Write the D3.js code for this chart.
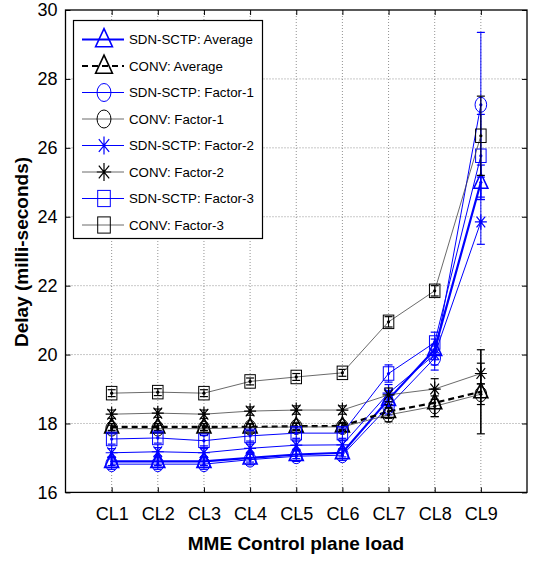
<!DOCTYPE html>
<html>
<head>
<meta charset="utf-8">
<script src="https://cdn.jsdelivr.net/npm/d3@7"></script>
<style>
  html, body { margin: 0; padding: 0; background: #fff; }
  svg { display: block; font-family: "Liberation Sans", Arial, sans-serif; }
</style>
</head>
<body>
<svg id="chart" width="533" height="561"></svg>
<script>
// Control-plane load levels
const categories = ["CL1", "CL2", "CL3", "CL4", "CL5", "CL6", "CL7", "CL8", "CL9"];
const yTicks = [16, 18, 20, 22, 24, 26, 28, 30];

// Mean delay (ms) per series
const sdnAvg  = [16.90, 16.90, 16.90, 17.00, 17.10, 17.15, 18.70, 20.15, 25.00];
const convAvg = [17.90, 17.90, 17.90, 17.90, 17.92, 17.93, 18.35, 18.60, 18.92];
const sdnF1   = [16.82, 16.82, 16.82, 16.95, 17.05, 17.08, 18.50, 19.90, 27.25];
const convF1  = [17.85, 17.85, 17.85, 17.88, 17.90, 17.90, 18.25, 18.50, 18.85];
const sdnF2   = [17.15, 17.18, 17.15, 17.28, 17.37, 17.38, 18.88, 20.00, 23.85];
const convF2  = [18.27, 18.30, 18.27, 18.36, 18.39, 18.39, 18.83, 19.00, 19.45];
const sdnF3   = [17.55, 17.58, 17.50, 17.64, 17.72, 17.72, 19.45, 20.35, 25.77];
const convF3  = [18.88, 18.91, 18.88, 19.22, 19.35, 19.47, 20.95, 21.85, 26.35];

// Error-bar half widths (ms)
const sdnAvgErr  = [0.12, 0.12, 0.12, 0.12, 0.12, 0.12, 0.25, 0.30, 0.50];
const convAvgErr = [0.10, 0.10, 0.10, 0.10, 0.10, 0.10, 0.20, 0.40, 1.22];
const sdnF1Err   = [0.15, 0.15, 0.15, 0.15, 0.15, 0.15, 0.25, 0.35, 2.10];
const convF1Err  = [0.10, 0.10, 0.10, 0.10, 0.10, 0.10, 0.20, 0.30, 0.30];
const sdnF2Err   = [0.12, 0.12, 0.12, 0.12, 0.12, 0.12, 0.25, 0.30, 0.65];
const convF2Err  = [0.12, 0.12, 0.12, 0.12, 0.12, 0.12, 0.20, 0.30, 0.30];
const sdnF3Err   = [0.15, 0.15, 0.15, 0.15, 0.15, 0.15, 0.25, 0.30, 1.20];
const convF3Err  = [0.10, 0.10, 0.10, 0.10, 0.10, 0.10, 0.15, 0.15, 1.15];

const BLUE = "#0000ff", BLACK = "#000000", GREY = "#444444";

const series = [
  { name: "SDN-SCTP: Average", values: sdnAvg,  err: sdnAvgErr,  color: BLUE,  marker: "triangle", width: 2.2, dash: null },
  { name: "CONV: Average",     values: convAvg, err: convAvgErr, color: BLACK, marker: "triangle", width: 2.2, dash: "6,4" },
  { name: "SDN-SCTP: Factor-1", values: sdnF1,  err: sdnF1Err,   color: BLUE,  marker: "circle",   width: 1,   dash: null },
  { name: "CONV: Factor-1",     values: convF1, err: convF1Err,  color: GREY,  marker: "circle",   width: 0.8, dash: null },
  { name: "SDN-SCTP: Factor-2", values: sdnF2,  err: sdnF2Err,   color: BLUE,  marker: "star",     width: 1,   dash: null },
  { name: "CONV: Factor-2",     values: convF2, err: convF2Err,  color: GREY,  marker: "star",     width: 0.8, dash: null },
  { name: "SDN-SCTP: Factor-3", values: sdnF3,  err: sdnF3Err,   color: BLUE,  marker: "square",   width: 1,   dash: null },
  { name: "CONV: Factor-3",     values: convF3, err: convF3Err,  color: GREY,  marker: "square",   width: 0.8, dash: null }
];

const svg = d3.select("#chart");
const plotL = 65.5, plotR = 527, plotT = 10, plotB = 492.4;

const x = d3.scaleLinear().domain([0, categories.length + 1]).range([plotL, plotR]);
const y = d3.scaleLinear().domain([16, 30]).range([plotB, plotT]);
const xIdx = d3.range(1, categories.length + 1);

// dotted grid
const grid = svg.append("g").attr("stroke", "#777").attr("stroke-width", 0.8).attr("stroke-dasharray", "1,2");
grid.selectAll("line.gx").data(xIdx).join("line")
  .attr("x1", d => x(d)).attr("x2", d => x(d)).attr("y1", plotT).attr("y2", plotB);
grid.selectAll("line.gy").data(yTicks.slice(1, -1)).join("line")
  .attr("x1", plotL).attr("x2", plotR).attr("y1", d => y(d)).attr("y2", d => y(d));

// axes with inward ticks on all four sides
const fontTick = "18px";
const gx = svg.append("g").attr("transform", `translate(0,${plotB})`)
  .call(d3.axisBottom(x).tickValues(xIdx).tickFormat(d => categories[d - 1]).tickSizeInner(-5).tickSizeOuter(0).tickPadding(15));
const gy = svg.append("g").attr("transform", `translate(${plotL},0)`)
  .call(d3.axisLeft(y).tickValues(yTicks).tickFormat(d3.format("d")).tickSizeInner(-5).tickSizeOuter(0).tickPadding(8));
const gxt = svg.append("g").attr("transform", `translate(0,${plotT})`)
  .call(d3.axisTop(x).tickValues(xIdx).tickFormat("").tickSizeInner(-5).tickSizeOuter(0));
const gyr = svg.append("g").attr("transform", `translate(${plotR},0)`)
  .call(d3.axisRight(y).tickValues(yTicks).tickFormat("").tickSizeInner(-5).tickSizeOuter(0));
[gx, gy, gxt, gyr].forEach(g => {
  g.select(".domain").remove();
  g.selectAll("text").attr("font-size", fontTick).attr("fill", "#000")
    .attr("font-family", "'Liberation Sans', Arial, sans-serif");
  g.selectAll("line").attr("stroke", "#000");
});

svg.append("rect").attr("x", plotL).attr("y", plotT).attr("width", plotR - plotL).attr("height", plotB - plotT)
  .attr("fill", "none").attr("stroke", "#000").attr("stroke-width", 1.3);

// marker shapes
function drawMarker(g, type, cx, cy, color, scale) {
  const s = scale || 1;
  if (type === "triangle") {
    const w = 14 * s, h = 15 * s;
    g.append("path").attr("d", `M${cx},${cy - h * 0.6}L${cx + w / 2},${cy + h * 0.4}L${cx - w / 2},${cy + h * 0.4}Z`)
      .attr("fill", "none").attr("stroke", color).attr("stroke-width", 1.6);
  } else if (type === "circle") {
    g.append("ellipse").attr("cx", cx).attr("cy", cy).attr("rx", 5.8 * s).attr("ry", 7.5 * s)
      .attr("fill", "none").attr("stroke", color).attr("stroke-width", 1);
  } else if (type === "square") {
    const w = 10.5 * s, h = 13.5 * s;
    g.append("rect").attr("x", cx - w / 2).attr("y", cy - h / 2).attr("width", w).attr("height", h)
      .attr("fill", "none").attr("stroke", color).attr("stroke-width", 1);
  } else if (type === "star") {
    const a = 6 * s, b = 7.5 * s;
    const p = `M${cx - a},${cy}L${cx + a},${cy}M${cx},${cy - b}L${cx},${cy + b}` +
      `M${cx - a * 0.72},${cy - b * 0.72}L${cx + a * 0.72},${cy + b * 0.72}` +
      `M${cx - a * 0.72},${cy + b * 0.72}L${cx + a * 0.72},${cy - b * 0.72}`;
    g.append("path").attr("d", p).attr("fill", "none").attr("stroke", color).attr("stroke-width", 1.2);
  }
}

const line = d3.line().x((d, i) => x(i + 1)).y(d => y(d));
const plot = svg.append("g");

series.forEach(s => {
  const g = plot.append("g");
  const markerColor = s.color === GREY ? BLACK : s.color;
  // error bars
  s.values.forEach((v, i) => {
    const cx = x(i + 1), e = s.err[i];
    g.append("line").attr("x1", cx).attr("x2", cx).attr("y1", y(v - e)).attr("y2", y(v + e))
      .attr("stroke", markerColor).attr("stroke-width", s.width > 2 ? 1.6 : 1);
    [v - e, v + e].forEach(t => g.append("line").attr("x1", cx - 4).attr("x2", cx + 4)
      .attr("y1", y(t)).attr("y2", y(t)).attr("stroke", markerColor).attr("stroke-width", 1.2));
  });
  g.append("path").datum(s.values).attr("d", line).attr("fill", "none")
    .attr("stroke", s.color).attr("stroke-width", s.width).attr("stroke-dasharray", s.dash);
  s.values.forEach((v, i) => {
    drawMarker(g, s.marker, x(i + 1), y(v), markerColor, 1);
    g.append("circle").attr("cx", x(i + 1)).attr("cy", y(v)).attr("r", 1.6).attr("fill", markerColor);
  });
});

// legend
const lg = svg.append("g");
lg.append("rect").attr("x", 73.5).attr("y", 20.5).attr("width", 189).attr("height", 218)
  .attr("fill", "#fff").attr("stroke", "#000").attr("stroke-width", 1.2);
series.forEach((s, i) => {
  const cy = 39.5 + i * 26.5;
  const markerColor = s.color === GREY ? BLACK : s.color;
  lg.append("line").attr("x1", 82).attr("x2", 124).attr("y1", cy).attr("y2", cy)
    .attr("stroke", s.color).attr("stroke-width", s.width).attr("stroke-dasharray", s.dash);
  drawMarker(lg, s.marker, 104, cy, markerColor, 1.2);
  lg.append("text").attr("x", 129).attr("y", cy).attr("dy", "0.36em")
    .attr("font-size", "13.3px").attr("fill", "#000").text(s.name);
});

// axis titles
svg.append("text").attr("x", 296).attr("y", 550).attr("text-anchor", "middle")
  .attr("font-size", "19px").attr("font-weight", "bold").text("MME Control plane load");
svg.append("text").attr("transform", "translate(28,252) rotate(-90)").attr("text-anchor", "middle")
  .attr("font-size", "19px").attr("font-weight", "bold").text("Delay (milli-seconds)");
</script>
</body>
</html>
